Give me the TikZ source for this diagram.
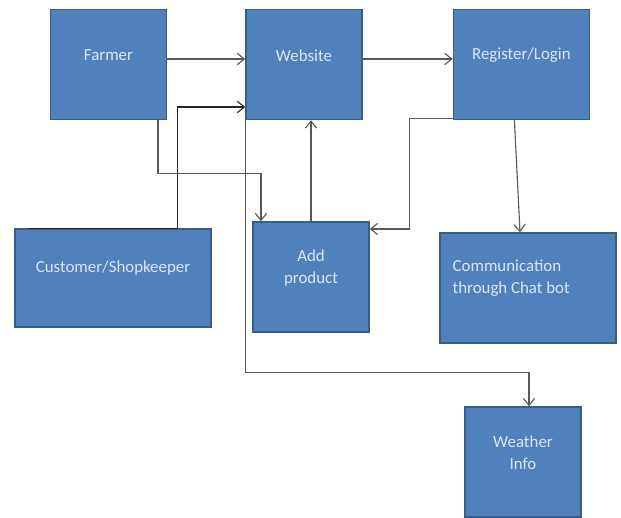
\documentclass[tikz,border=0pt]{standalone}
\usepackage{fontspec}
\setmainfont{Carlito}
\usetikzlibrary{arrows.meta, positioning, calc}
\definecolor{boxColor}{RGB}{79,129,189}
\definecolor{borderColor}{RGB}{56,93,138}
\definecolor{labelColor}{RGB}{220,230,242}
\definecolor{lineColor}{RGB}{89,89,89}
\tikzstyle{process} = [rectangle, minimum width=2.9cm, minimum height=2.75cm, draw=borderColor, line width=1pt, fill=boxColor]
\tikzstyle{proctext} = [text=labelColor, font=\fontsize{12}{15.5}\selectfont, align=center, yshift=0.225cm]
\tikzstyle{conn} = [draw=lineColor, line width=0.8pt, -{Straight Barb[length=5pt, width=8pt]}]

\begin{document}
\begin{tikzpicture}[x=0.025cm, y=-0.025cm]
				\useasboundingbox (0,0) rectangle (621,518);
				% top row
				\node (farmer) [process, label={[proctext]center:Farmer}] at (108.5,64.5) {};
				\node (web) [process, right=1.95cm of farmer, label={[proctext]center:Website}] {};
				\node (reg) [process, minimum width=3.4cm, right=2.25cm of web, label={[proctext]center:Register/Login}] {};
				
				\node (cust) [process, minimum width=4.9cm, minimum height=2.45cm, label={[proctext, yshift=0.025cm]center:Customer/Shopkeeper}] at (113,278) {};
				\node (add) [process, label={[proctext]center:Add\\product}] at (311,277) {};
				\node (comm) [process, minimum width=4.4cm, label={[proctext, align=left, anchor=west, xshift=0.21cm, yshift=0.025cm]west:Communication\\through Chat bot}] at (528,288) {};
				\node (weather) [process, label={[proctext]center:Weather\\Info}] at (523,462) {};
				
				\draw[conn] ($(farmer.east)+(0,-5.5)$) -- ($(web.west)+(0,-5.5)$);
				\draw[conn] ($(web.east)+(0,-5.5)$) -- ($(reg.west)+(0,-5.5)$);
				\draw[conn, draw=black!85] ($(cust.north west)+(14,0)$) -- ++(149,0) |- ($(web.west)+(0,42.5)$);
				\draw[conn] ($(farmer.south)+(49.5,0)$) -- ++(0,53) -| ($(add.north)+(-50,0)$);
				\draw[conn] (add.north) -- (web.south -| add.north);
				\draw[conn] ($(reg.south west)+(0,-2)$) -- ++(-43,0) |- ($(add.east)+(0,-48)$);
				\draw[conn] ($(reg.south)+(-7,0)$) -- ($(comm.north)+(-8,0)$);
				\draw[conn] (web.south west) -- ++(0,252) -| ($(weather.north)+(6,0)$);
			\end{tikzpicture}
\end{document}
